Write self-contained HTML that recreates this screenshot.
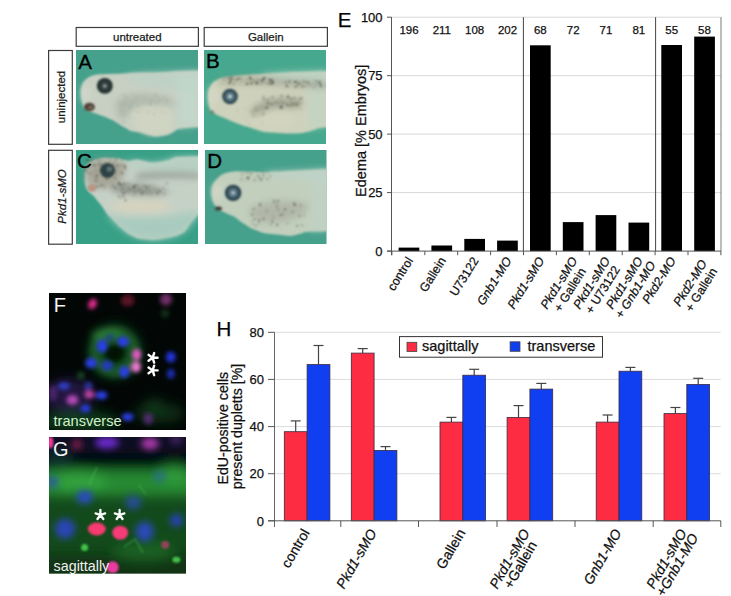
<!DOCTYPE html>
<html><head><meta charset="utf-8"><style>html,body{margin:0;padding:0;background:#fff;width:731px;height:596px;overflow:hidden}svg{display:block}text{font-family:"Liberation Sans",sans-serif} .ct text{stroke:#111;stroke-width:0.25px}</style></head>
<body>
<svg width="731" height="596" viewBox="0 0 731 596" font-family="Liberation Sans, sans-serif">
<rect width="731" height="596" fill="#fff"/>
<defs>
<filter id="b05" x="-20%" y="-20%" width="140%" height="140%"><feGaussianBlur stdDeviation="0.5"/></filter>
<filter id="b1" x="-20%" y="-20%" width="140%" height="140%"><feGaussianBlur stdDeviation="0.9"/></filter>
<filter id="b2" x="-50%" y="-50%" width="200%" height="200%"><feGaussianBlur stdDeviation="2"/></filter>
<filter id="b3" x="-50%" y="-50%" width="200%" height="200%"><feGaussianBlur stdDeviation="3.5"/></filter>
<filter id="b5" x="-50%" y="-50%" width="200%" height="200%"><feGaussianBlur stdDeviation="6"/></filter>
<clipPath id="cA"><rect x="76" y="50" width="122" height="94"/></clipPath>
<clipPath id="cB"><rect x="204" y="50" width="122" height="94"/></clipPath>
<clipPath id="cC"><rect x="76" y="150" width="122" height="94"/></clipPath>
<clipPath id="cD"><rect x="205" y="150" width="121.5" height="94"/></clipPath>
<clipPath id="cF"><rect x="49" y="293" width="137" height="137"/></clipPath>
<clipPath id="cG"><rect x="49" y="437" width="137" height="136.5"/></clipPath>
</defs>
<rect x="76.2" y="27.5" width="122.2" height="18.8" fill="#fff" stroke="#3c3c3c" stroke-width="1.2"/>
<text x="137.3" y="41.2" font-size="11.5" text-anchor="middle" fill="#1a1a1a" stroke="#1a1a1a" stroke-width="0.25">untreated</text>
<rect x="204.2" y="27.5" width="123.2" height="18.8" fill="#fff" stroke="#3c3c3c" stroke-width="1.2"/>
<text x="265.8" y="41.2" font-size="11.5" text-anchor="middle" fill="#1a1a1a" stroke="#1a1a1a" stroke-width="0.25">Gallein</text>
<rect x="48.6" y="50.5" width="23.7" height="93.8" fill="#fff" stroke="#3c3c3c" stroke-width="1.2"/>
<text transform="translate(65 97) rotate(-90)" font-size="11.5" text-anchor="middle" fill="#1a1a1a" stroke="#1a1a1a" stroke-width="0.25">uninjected</text>
<rect x="48.6" y="150.3" width="23.7" height="93.9" fill="#fff" stroke="#3c3c3c" stroke-width="1.2"/>
<text transform="translate(65.5 196.5) rotate(-90)" font-size="11.5" text-anchor="middle" font-style="italic" fill="#1a1a1a" stroke="#1a1a1a" stroke-width="0.25">Pkd1-sMO</text>
<g clip-path="url(#cA)"><rect x="75" y="49" width="124" height="96" fill="#45a08c"/>
<g transform="translate(76 50)">
<g filter="url(#b1)">
<path d="M4.6 43.4 C4.5 36 7 31 10 29.2 C14 26 18 25 21 24.6 C30 24 36 23.9 41.7 23.8 C55 23 60 22.5 70 22.5 C85 22.9 95 21.5 100.4 21.3 L124 20.5 L124 77.3 C112 77.5 104 78.5 100.4 79.7 C96 83 93 84.4 92.5 84.4 C85 86 80 86.5 76.8 86 C70 84 65 82 61 82 C57 81.5 55 81 53.4 80.4 C50 78 47 76.5 45 75.4 C40 72 37 70.5 35 69.5 C30 67 27 66 25 65.4 C20 63.5 17 62.5 15 62 C11 60 8.5 58.5 7.5 57 C5.5 52 4.7 47 4.6 43.4 Z" fill="#c8d0c3"/>
</g>
<g filter="url(#b3)">
<path d="M50 25 C70 23 95 22 124 21 L124 42 C105 40 80 37 55 32 Z" fill="#bcd2c6" opacity="0.8"/>
<path d="M102 24 L124 22 L124 76 C115 76 108 77 102 78 Z" fill="#c0d8cc" opacity="0.7"/>
<path d="M40 52 C48 44 65 42 85 46 C95 48 100 52 100 56 C85 54 70 54 58 58 C52 62 48 68 46 72 C42 66 38 58 40 52 Z" fill="#9aa698" opacity="0.5"/>
<ellipse cx="9" cy="44" rx="4" ry="9" fill="#d8ddd2" opacity="0.6"/>
</g>
<g filter="url(#b2)">
<path d="M56 64 C62 56 75 54 90 58 C98 62 100 72 96 80 C90 86 78 87 68 84 C60 80 55 72 56 64 Z" fill="#d2d5c2" opacity="0.8"/>
</g>
<g filter="url(#b1)">
<circle cx="60.1" cy="47.0" r="0.55" fill="#76705e" opacity="0.6"/><circle cx="46.1" cy="54.7" r="0.46" fill="#76705e" opacity="0.6"/><circle cx="45.2" cy="54.1" r="0.36" fill="#76705e" opacity="0.6"/><circle cx="66.3" cy="45.4" r="0.38" fill="#76705e" opacity="0.6"/><circle cx="65.8" cy="60.5" r="0.39" fill="#76705e" opacity="0.6"/><circle cx="54.5" cy="56.5" r="0.63" fill="#76705e" opacity="0.6"/><circle cx="74.3" cy="51.9" r="0.64" fill="#76705e" opacity="0.6"/><circle cx="44.6" cy="61.2" r="0.44" fill="#76705e" opacity="0.6"/><circle cx="50.1" cy="46.4" r="0.44" fill="#76705e" opacity="0.6"/><circle cx="87.7" cy="47.6" r="0.52" fill="#76705e" opacity="0.6"/><circle cx="77.8" cy="51.4" r="0.51" fill="#76705e" opacity="0.6"/><circle cx="45.5" cy="45.2" r="0.41" fill="#76705e" opacity="0.6"/><circle cx="80.1" cy="52.6" r="0.44" fill="#76705e" opacity="0.6"/><circle cx="74.8" cy="53.1" r="0.44" fill="#76705e" opacity="0.6"/><circle cx="86.5" cy="58.0" r="0.42" fill="#76705e" opacity="0.6"/><circle cx="74.2" cy="54.5" r="0.61" fill="#76705e" opacity="0.6"/><circle cx="82.8" cy="49.8" r="0.64" fill="#76705e" opacity="0.6"/><circle cx="48.6" cy="52.4" r="0.58" fill="#76705e" opacity="0.6"/><circle cx="50.5" cy="53.8" r="0.36" fill="#76705e" opacity="0.6"/><circle cx="79.4" cy="59.3" r="0.52" fill="#76705e" opacity="0.6"/><circle cx="91.0" cy="50.3" r="0.56" fill="#76705e" opacity="0.6"/><circle cx="75.3" cy="55.6" r="0.49" fill="#76705e" opacity="0.6"/><circle cx="89.0" cy="62.9" r="0.49" fill="#76705e" opacity="0.6"/><circle cx="79.2" cy="45.2" r="0.56" fill="#76705e" opacity="0.6"/><circle cx="78.2" cy="63.9" r="0.60" fill="#76705e" opacity="0.6"/><circle cx="57.9" cy="51.7" r="0.55" fill="#76705e" opacity="0.6"/><circle cx="43.3" cy="53.2" r="0.40" fill="#76705e" opacity="0.6"/><circle cx="48.6" cy="45.2" r="0.58" fill="#76705e" opacity="0.6"/><circle cx="49.2" cy="49.0" r="0.47" fill="#76705e" opacity="0.6"/><circle cx="90.8" cy="45.6" r="0.48" fill="#76705e" opacity="0.6"/><circle cx="72.8" cy="61.7" r="0.60" fill="#76705e" opacity="0.6"/><circle cx="90.4" cy="49.6" r="0.47" fill="#76705e" opacity="0.6"/><circle cx="62.1" cy="61.7" r="0.64" fill="#76705e" opacity="0.6"/><circle cx="50.5" cy="47.5" r="0.42" fill="#76705e" opacity="0.6"/><circle cx="55.1" cy="53.7" r="0.53" fill="#76705e" opacity="0.6"/><circle cx="56.7" cy="44.1" r="0.48" fill="#76705e" opacity="0.6"/><circle cx="62.7" cy="55.3" r="0.64" fill="#76705e" opacity="0.6"/><circle cx="80.7" cy="54.3" r="0.54" fill="#76705e" opacity="0.6"/><circle cx="79.9" cy="45.1" r="0.62" fill="#76705e" opacity="0.6"/><circle cx="85.7" cy="61.5" r="0.59" fill="#76705e" opacity="0.6"/>
<circle cx="51.5" cy="65.6" r="0.38" fill="#76705e" opacity="0.5"/><circle cx="54.9" cy="60.9" r="0.37" fill="#76705e" opacity="0.5"/><circle cx="48.9" cy="62.3" r="0.44" fill="#76705e" opacity="0.5"/><circle cx="46.7" cy="60.0" r="0.39" fill="#76705e" opacity="0.5"/><circle cx="47.4" cy="65.1" r="0.36" fill="#76705e" opacity="0.5"/><circle cx="58.2" cy="68.6" r="0.39" fill="#76705e" opacity="0.5"/><circle cx="49.5" cy="64.9" r="0.44" fill="#76705e" opacity="0.5"/><circle cx="47.7" cy="71.9" r="0.60" fill="#76705e" opacity="0.5"/><circle cx="52.5" cy="66.8" r="0.37" fill="#76705e" opacity="0.5"/><circle cx="47.4" cy="64.8" r="0.42" fill="#76705e" opacity="0.5"/>
</g>
<g filter="url(#b1)">
<ellipse cx="13.4" cy="57" rx="5.5" ry="4.3" fill="#4e4038"/>
<ellipse cx="14.5" cy="57.5" rx="2.3" ry="1.8" fill="#7e6a5c"/>
<circle cx="28.8" cy="35.9" r="7.9" fill="#243232"/><circle cx="28.8" cy="35.9" r="4.90" fill="#34403f"/><circle cx="28.8" cy="35.9" r="1.74" fill="#8a9c9c"/>
</g>
</g></g>
<text x="78.3" y="68.6" font-size="20.5" fill="#000" stroke="#000" stroke-width="0.3">A</text>
<g clip-path="url(#cB)"><rect x="203" y="49" width="124" height="96" fill="#46a88e"/>
<g transform="translate(204 50)">
<g filter="url(#b1)">
<path d="M3.9 45.7 C4 41 5 38.5 6.3 36.3 C8 33 10 31 12.6 30 C16 28 20 27.2 23.7 26.8 C30 26 35 25.5 39.4 25.2 C48 24.5 55 24 61 23.7 C75 23 85 22.2 92.5 22 L124 21.3 L124 77.3 C120 77.4 117 77.6 114.6 78 C108 81 100 83 92.5 83.6 C80 83.5 70 82.5 61 82 C55 80.5 50 79 47.3 78 C42 76.5 38 75.5 34.7 74.1 C30 72 26 70.5 23.7 69.4 C20 67.5 15 66 12.6 64.7 C10 63 8 61.5 6.3 60 C4.5 56 3.8 50 3.9 45.7 Z" fill="#ced2bc"/>
</g>
<g filter="url(#b3)">
<path d="M58 24 C80 22.5 100 21.8 124 21.3 L124 30 C100 29.5 80 29 62 28.5 Z" fill="#b6d2c4" opacity="0.85"/>
<path d="M104 24 L124 22 L124 76 C118 76.5 110 78 104 80 Z" fill="#bed4c6" opacity="0.6"/>
<path d="M14 31 C25 27 45 26 65 28 C90 30 110 31 124 33 L124 38 C105 37 85 36 65 34 C45 33 25 33 14 34 Z" fill="#8a8a7a" opacity="0.6"/>
<path d="M46 62 C55 50 72 46 98 50 C100 54 96 58 90 58 C75 56 62 58 52 66 Z" fill="#8e9282" opacity="0.75"/>
<ellipse cx="8" cy="46" rx="4" ry="10" fill="#dcdccc" opacity="0.7"/>
<ellipse cx="70" cy="70" rx="22" ry="8" fill="#d6d6c2" opacity="0.6"/>
</g>
<g filter="url(#b1)">
<circle cx="61.1" cy="28.1" r="0.51" fill="#3e3e36" opacity="0.75"/><circle cx="67.5" cy="30.7" r="0.57" fill="#3e3e36" opacity="0.75"/><circle cx="46.2" cy="27.2" r="0.76" fill="#3e3e36" opacity="0.75"/><circle cx="68.9" cy="33.0" r="0.85" fill="#3e3e36" opacity="0.75"/><circle cx="31.6" cy="29.6" r="0.58" fill="#3e3e36" opacity="0.75"/><circle cx="58.1" cy="30.7" r="0.89" fill="#3e3e36" opacity="0.75"/><circle cx="35.1" cy="28.6" r="0.91" fill="#3e3e36" opacity="0.75"/><circle cx="69.2" cy="33.0" r="0.90" fill="#3e3e36" opacity="0.75"/><circle cx="60.6" cy="32.2" r="0.61" fill="#3e3e36" opacity="0.75"/><circle cx="44.9" cy="29.5" r="0.51" fill="#3e3e36" opacity="0.75"/><circle cx="19.5" cy="29.0" r="0.63" fill="#3e3e36" opacity="0.75"/><circle cx="54.0" cy="33.7" r="0.72" fill="#3e3e36" opacity="0.75"/><circle cx="66.7" cy="33.9" r="0.98" fill="#3e3e36" opacity="0.75"/><circle cx="37.0" cy="28.5" r="0.61" fill="#3e3e36" opacity="0.75"/><circle cx="28.2" cy="28.4" r="0.81" fill="#3e3e36" opacity="0.75"/><circle cx="64.8" cy="32.9" r="0.74" fill="#3e3e36" opacity="0.75"/><circle cx="52.0" cy="32.6" r="0.54" fill="#3e3e36" opacity="0.75"/><circle cx="52.4" cy="33.4" r="0.89" fill="#3e3e36" opacity="0.75"/><circle cx="57.0" cy="30.3" r="0.59" fill="#3e3e36" opacity="0.75"/><circle cx="59.0" cy="29.3" r="0.90" fill="#3e3e36" opacity="0.75"/><circle cx="68.5" cy="29.8" r="0.70" fill="#3e3e36" opacity="0.75"/><circle cx="67.2" cy="32.1" r="0.59" fill="#3e3e36" opacity="0.75"/><circle cx="24.6" cy="28.1" r="0.95" fill="#3e3e36" opacity="0.75"/><circle cx="59.9" cy="28.0" r="0.91" fill="#3e3e36" opacity="0.75"/><circle cx="69.0" cy="31.6" r="0.68" fill="#3e3e36" opacity="0.75"/><circle cx="46.5" cy="27.9" r="0.51" fill="#3e3e36" opacity="0.75"/><circle cx="68.5" cy="31.5" r="0.76" fill="#3e3e36" opacity="0.75"/><circle cx="66.5" cy="30.0" r="0.94" fill="#3e3e36" opacity="0.75"/><circle cx="61.0" cy="28.5" r="0.63" fill="#3e3e36" opacity="0.75"/><circle cx="33.2" cy="28.7" r="0.79" fill="#3e3e36" opacity="0.75"/><circle cx="31.5" cy="29.9" r="0.57" fill="#3e3e36" opacity="0.75"/><circle cx="65.3" cy="29.5" r="0.73" fill="#3e3e36" opacity="0.75"/><circle cx="48.3" cy="33.3" r="0.71" fill="#3e3e36" opacity="0.75"/><circle cx="65.7" cy="30.5" r="0.77" fill="#3e3e36" opacity="0.75"/><circle cx="45.2" cy="27.1" r="0.72" fill="#3e3e36" opacity="0.75"/><circle cx="27.5" cy="27.0" r="0.90" fill="#3e3e36" opacity="0.75"/><circle cx="27.0" cy="30.3" r="0.86" fill="#3e3e36" opacity="0.75"/><circle cx="46.9" cy="29.3" r="0.76" fill="#3e3e36" opacity="0.75"/><circle cx="46.9" cy="32.5" r="0.55" fill="#3e3e36" opacity="0.75"/><circle cx="47.1" cy="28.7" r="0.64" fill="#3e3e36" opacity="0.75"/><circle cx="58.2" cy="30.6" r="0.78" fill="#3e3e36" opacity="0.75"/><circle cx="57.5" cy="33.4" r="0.72" fill="#3e3e36" opacity="0.75"/><circle cx="49.9" cy="30.5" r="0.76" fill="#3e3e36" opacity="0.75"/><circle cx="54.0" cy="30.2" r="0.77" fill="#3e3e36" opacity="0.75"/><circle cx="42.9" cy="33.6" r="0.85" fill="#3e3e36" opacity="0.75"/><circle cx="63.6" cy="33.6" r="0.63" fill="#3e3e36" opacity="0.75"/><circle cx="47.1" cy="33.6" r="0.92" fill="#3e3e36" opacity="0.75"/><circle cx="25.1" cy="27.9" r="0.72" fill="#3e3e36" opacity="0.75"/><circle cx="21.8" cy="28.7" r="0.54" fill="#3e3e36" opacity="0.75"/><circle cx="52.8" cy="32.5" r="0.95" fill="#3e3e36" opacity="0.75"/><circle cx="26.0" cy="32.0" r="0.83" fill="#3e3e36" opacity="0.75"/><circle cx="25.4" cy="33.2" r="0.98" fill="#3e3e36" opacity="0.75"/><circle cx="29.4" cy="33.7" r="0.70" fill="#3e3e36" opacity="0.75"/><circle cx="43.3" cy="33.9" r="0.92" fill="#3e3e36" opacity="0.75"/><circle cx="26.4" cy="30.0" r="0.76" fill="#3e3e36" opacity="0.75"/>
<circle cx="94.9" cy="32.2" r="0.66" fill="#3e3e36" opacity="0.7"/><circle cx="111.8" cy="31.1" r="0.78" fill="#3e3e36" opacity="0.7"/><circle cx="99.4" cy="31.1" r="0.67" fill="#3e3e36" opacity="0.7"/><circle cx="107.5" cy="34.1" r="0.53" fill="#3e3e36" opacity="0.7"/><circle cx="123.3" cy="35.7" r="0.99" fill="#3e3e36" opacity="0.7"/><circle cx="84.6" cy="32.6" r="0.52" fill="#3e3e36" opacity="0.7"/><circle cx="114.3" cy="32.6" r="0.56" fill="#3e3e36" opacity="0.7"/><circle cx="98.6" cy="36.5" r="0.91" fill="#3e3e36" opacity="0.7"/><circle cx="91.4" cy="31.9" r="0.96" fill="#3e3e36" opacity="0.7"/><circle cx="105.1" cy="35.2" r="0.54" fill="#3e3e36" opacity="0.7"/><circle cx="82.5" cy="35.1" r="0.71" fill="#3e3e36" opacity="0.7"/><circle cx="83.2" cy="36.6" r="0.82" fill="#3e3e36" opacity="0.7"/><circle cx="115.3" cy="31.5" r="0.93" fill="#3e3e36" opacity="0.7"/><circle cx="82.9" cy="36.2" r="0.73" fill="#3e3e36" opacity="0.7"/><circle cx="94.9" cy="34.3" r="0.96" fill="#3e3e36" opacity="0.7"/><circle cx="91.8" cy="31.8" r="0.76" fill="#3e3e36" opacity="0.7"/><circle cx="90.5" cy="31.7" r="0.58" fill="#3e3e36" opacity="0.7"/><circle cx="82.2" cy="32.2" r="0.66" fill="#3e3e36" opacity="0.7"/><circle cx="93.4" cy="35.6" r="0.64" fill="#3e3e36" opacity="0.7"/><circle cx="102.0" cy="32.1" r="0.67" fill="#3e3e36" opacity="0.7"/><circle cx="80.8" cy="32.5" r="0.51" fill="#3e3e36" opacity="0.7"/><circle cx="112.3" cy="34.3" r="0.59" fill="#3e3e36" opacity="0.7"/><circle cx="100.9" cy="36.6" r="0.55" fill="#3e3e36" opacity="0.7"/><circle cx="116.0" cy="33.6" r="0.75" fill="#3e3e36" opacity="0.7"/><circle cx="116.7" cy="33.4" r="0.75" fill="#3e3e36" opacity="0.7"/><circle cx="110.3" cy="36.9" r="0.67" fill="#3e3e36" opacity="0.7"/><circle cx="116.6" cy="35.2" r="0.82" fill="#3e3e36" opacity="0.7"/><circle cx="97.8" cy="33.1" r="0.53" fill="#3e3e36" opacity="0.7"/><circle cx="85.7" cy="31.4" r="0.87" fill="#3e3e36" opacity="0.7"/><circle cx="91.2" cy="32.0" r="0.54" fill="#3e3e36" opacity="0.7"/><circle cx="117.0" cy="36.2" r="0.84" fill="#3e3e36" opacity="0.7"/><circle cx="92.4" cy="32.5" r="0.65" fill="#3e3e36" opacity="0.7"/><circle cx="100.2" cy="31.9" r="0.72" fill="#3e3e36" opacity="0.7"/><circle cx="91.6" cy="36.8" r="0.99" fill="#3e3e36" opacity="0.7"/><circle cx="104.1" cy="32.5" r="0.98" fill="#3e3e36" opacity="0.7"/>
<circle cx="70.4" cy="51.0" r="0.45" fill="#3a3a32" opacity="0.8"/><circle cx="73.3" cy="52.6" r="0.70" fill="#3a3a32" opacity="0.8"/><circle cx="66.0" cy="53.1" r="0.45" fill="#3a3a32" opacity="0.8"/><circle cx="68.6" cy="47.3" r="0.65" fill="#3a3a32" opacity="0.8"/><circle cx="59.7" cy="46.3" r="0.60" fill="#3a3a32" opacity="0.8"/><circle cx="67.3" cy="54.2" r="0.71" fill="#3a3a32" opacity="0.8"/><circle cx="88.0" cy="55.2" r="0.81" fill="#3a3a32" opacity="0.8"/><circle cx="93.2" cy="51.5" r="0.61" fill="#3a3a32" opacity="0.8"/><circle cx="97.4" cy="48.1" r="0.81" fill="#3a3a32" opacity="0.8"/><circle cx="83.7" cy="46.6" r="0.87" fill="#3a3a32" opacity="0.8"/><circle cx="93.7" cy="54.8" r="0.82" fill="#3a3a32" opacity="0.8"/><circle cx="90.5" cy="48.0" r="0.71" fill="#3a3a32" opacity="0.8"/><circle cx="78.2" cy="57.7" r="0.85" fill="#3a3a32" opacity="0.8"/><circle cx="91.1" cy="54.2" r="0.90" fill="#3a3a32" opacity="0.8"/><circle cx="85.3" cy="55.7" r="0.56" fill="#3a3a32" opacity="0.8"/><circle cx="59.2" cy="47.9" r="0.63" fill="#3a3a32" opacity="0.8"/><circle cx="62.2" cy="57.7" r="0.73" fill="#3a3a32" opacity="0.8"/><circle cx="83.1" cy="54.8" r="0.79" fill="#3a3a32" opacity="0.8"/><circle cx="77.6" cy="46.0" r="0.85" fill="#3a3a32" opacity="0.8"/><circle cx="87.9" cy="53.0" r="0.72" fill="#3a3a32" opacity="0.8"/><circle cx="84.4" cy="46.9" r="0.82" fill="#3a3a32" opacity="0.8"/><circle cx="68.1" cy="47.0" r="0.58" fill="#3a3a32" opacity="0.8"/><circle cx="87.2" cy="48.9" r="0.82" fill="#3a3a32" opacity="0.8"/><circle cx="97.0" cy="52.9" r="0.64" fill="#3a3a32" opacity="0.8"/><circle cx="77.2" cy="55.6" r="0.83" fill="#3a3a32" opacity="0.8"/><circle cx="82.7" cy="55.0" r="0.49" fill="#3a3a32" opacity="0.8"/><circle cx="63.9" cy="49.6" r="0.82" fill="#3a3a32" opacity="0.8"/><circle cx="70.2" cy="53.9" r="0.46" fill="#3a3a32" opacity="0.8"/><circle cx="60.4" cy="49.8" r="0.79" fill="#3a3a32" opacity="0.8"/><circle cx="85.7" cy="55.5" r="0.60" fill="#3a3a32" opacity="0.8"/><circle cx="78.7" cy="52.5" r="0.68" fill="#3a3a32" opacity="0.8"/><circle cx="62.7" cy="58.5" r="0.55" fill="#3a3a32" opacity="0.8"/><circle cx="97.1" cy="59.1" r="0.46" fill="#3a3a32" opacity="0.8"/><circle cx="76.4" cy="57.5" r="0.93" fill="#3a3a32" opacity="0.8"/><circle cx="76.0" cy="49.8" r="0.55" fill="#3a3a32" opacity="0.8"/><circle cx="95.8" cy="48.9" r="0.74" fill="#3a3a32" opacity="0.8"/><circle cx="63.7" cy="53.3" r="0.93" fill="#3a3a32" opacity="0.8"/><circle cx="63.3" cy="57.5" r="0.70" fill="#3a3a32" opacity="0.8"/><circle cx="93.5" cy="55.8" r="0.57" fill="#3a3a32" opacity="0.8"/><circle cx="93.9" cy="52.8" r="0.46" fill="#3a3a32" opacity="0.8"/>
<circle cx="48.0" cy="61.9" r="0.61" fill="#3a3a32" opacity="0.6"/><circle cx="51.6" cy="57.7" r="0.57" fill="#3a3a32" opacity="0.6"/><circle cx="51.8" cy="66.1" r="0.45" fill="#3a3a32" opacity="0.6"/><circle cx="57.0" cy="66.1" r="0.49" fill="#3a3a32" opacity="0.6"/><circle cx="59.1" cy="64.6" r="0.77" fill="#3a3a32" opacity="0.6"/><circle cx="51.5" cy="60.5" r="0.59" fill="#3a3a32" opacity="0.6"/><circle cx="60.0" cy="63.1" r="0.58" fill="#3a3a32" opacity="0.6"/><circle cx="53.1" cy="59.3" r="0.47" fill="#3a3a32" opacity="0.6"/><circle cx="49.2" cy="66.0" r="0.55" fill="#3a3a32" opacity="0.6"/><circle cx="59.2" cy="59.0" r="0.54" fill="#3a3a32" opacity="0.6"/>
<circle cx="40.4" cy="58.8" r="0.41" fill="#6a6a5a" opacity="0.5"/><circle cx="58.2" cy="72.7" r="0.54" fill="#6a6a5a" opacity="0.5"/><circle cx="45.2" cy="73.3" r="0.58" fill="#6a6a5a" opacity="0.5"/><circle cx="42.0" cy="69.4" r="0.31" fill="#6a6a5a" opacity="0.5"/><circle cx="49.3" cy="64.0" r="0.53" fill="#6a6a5a" opacity="0.5"/><circle cx="45.8" cy="60.7" r="0.31" fill="#6a6a5a" opacity="0.5"/><circle cx="57.1" cy="57.5" r="0.44" fill="#6a6a5a" opacity="0.5"/><circle cx="33.7" cy="61.0" r="0.52" fill="#6a6a5a" opacity="0.5"/>
</g>
<g filter="url(#b1)">
<circle cx="26" cy="46.5" r="7.8" fill="#2e4650"/><circle cx="26" cy="46.5" r="4.84" fill="#587682"/><circle cx="26" cy="46.5" r="1.72" fill="#c9d6d6"/>
<ellipse cx="8" cy="62" rx="2" ry="1.5" fill="#8a6a62" opacity="0.8"/>
</g>
</g></g>
<text x="206" y="68.2" font-size="20.5" fill="#000" stroke="#000" stroke-width="0.35">B</text>
<g clip-path="url(#cC)"><rect x="75" y="149" width="124" height="96" fill="#38a087"/>
<g transform="translate(76 150)">
<g filter="url(#b1)">
<path d="M9.5 20.5 C11 15 13 12.5 15.8 11 C20 9 25 8 28.4 7.9 C35 8 40 8.3 44.2 8.7 C48 9.5 50 10.5 52 11 C56 10.5 58 10 61 9.5 C68 11 73 12.5 76.8 12.6 C82 12.5 88 11.5 92.5 10.3 C96 9 98 7.5 100.4 7.1 L124 6.3 L124 63 C120 67 117 70 114.6 72.5 C112 77 110 80 108.3 82 C103 85 98 87 92.5 87.5 C85 89 80 90 76.8 90 C70 89.5 65 89 61 88.3 C57 86 54 85 52 83.6 C48 80 45 78 42.6 75.7 C38 71 34 67 31.5 64.7 C28 60 26 56 23.7 53.6 C21 50 19 47.5 17.4 45.7 C14 43 12 41 11 39.4 C9.5 36 8.7 34 8.7 31.5 C8.7 27 9 23 9.5 20.5 Z" fill="#c6d1c6"/>
</g>
<g filter="url(#b3)">
<path d="M30 64 C50 68 70 68 90 66 C105 64 115 62 124 60 L124 63 C118 70 112 80 108 82 C98 88 85 90 76.8 90 C65 89 55 86 50 82 C42 76 36 70 30 64 Z" fill="#a6cbbf" opacity="0.9"/>
<path d="M52 11 C60 10 70 12.5 77 12.6 C88 12 96 8 100.4 7.1 L124 6.3 L124 21 C100 20 75 19 52 17 Z" fill="#b3d0c3" opacity="0.8"/>
<ellipse cx="65" cy="56" rx="30" ry="7" fill="#d8d4bd" opacity="0.85"/>
<path d="M9 20 C12 12 20 9 30 8.5 C40 9 46 11 50 15 C50 25 45 32 35 37 C25 40 15 38 10 32 Z" fill="#9a9484" opacity="0.7"/>
<path d="M36 36 C55 32 75 36 95 42 C80 47 55 45 36 41 Z" fill="#70726a" opacity="0.7"/>
<path d="M60 24 C80 21 105 22 124 23 L124 28 C105 27 80 27 60 29 Z" fill="#6a6e64" opacity="0.6"/>
</g>
<g filter="url(#b1)">
<circle cx="49.1" cy="16.5" r="0.83" fill="#4a463c" opacity="0.7"/><circle cx="22.0" cy="25.2" r="0.70" fill="#4a463c" opacity="0.7"/><circle cx="16.7" cy="13.7" r="0.60" fill="#4a463c" opacity="0.7"/><circle cx="46.2" cy="23.4" r="0.61" fill="#4a463c" opacity="0.7"/><circle cx="46.3" cy="37.9" r="0.72" fill="#4a463c" opacity="0.7"/><circle cx="15.6" cy="14.6" r="0.55" fill="#4a463c" opacity="0.7"/><circle cx="23.7" cy="11.6" r="0.62" fill="#4a463c" opacity="0.7"/><circle cx="20.3" cy="25.5" r="0.94" fill="#4a463c" opacity="0.7"/><circle cx="40.0" cy="21.0" r="0.71" fill="#4a463c" opacity="0.7"/><circle cx="31.0" cy="19.9" r="0.67" fill="#4a463c" opacity="0.7"/><circle cx="12.5" cy="17.0" r="0.98" fill="#4a463c" opacity="0.7"/><circle cx="15.0" cy="23.6" r="0.81" fill="#4a463c" opacity="0.7"/><circle cx="44.5" cy="15.3" r="0.64" fill="#4a463c" opacity="0.7"/><circle cx="19.9" cy="20.6" r="0.72" fill="#4a463c" opacity="0.7"/><circle cx="48.2" cy="33.6" r="0.94" fill="#4a463c" opacity="0.7"/><circle cx="10.9" cy="9.9" r="0.85" fill="#4a463c" opacity="0.7"/><circle cx="45.8" cy="22.7" r="0.79" fill="#4a463c" opacity="0.7"/><circle cx="10.0" cy="20.4" r="0.96" fill="#4a463c" opacity="0.7"/><circle cx="43.0" cy="33.8" r="0.99" fill="#4a463c" opacity="0.7"/><circle cx="19.9" cy="12.2" r="0.58" fill="#4a463c" opacity="0.7"/><circle cx="30.9" cy="28.8" r="0.97" fill="#4a463c" opacity="0.7"/><circle cx="38.9" cy="27.8" r="0.88" fill="#4a463c" opacity="0.7"/><circle cx="28.3" cy="25.0" r="0.52" fill="#4a463c" opacity="0.7"/><circle cx="41.3" cy="15.7" r="0.96" fill="#4a463c" opacity="0.7"/><circle cx="35.8" cy="17.8" r="0.56" fill="#4a463c" opacity="0.7"/><circle cx="20.1" cy="27.5" r="0.85" fill="#4a463c" opacity="0.7"/><circle cx="14.5" cy="11.0" r="0.76" fill="#4a463c" opacity="0.7"/><circle cx="33.3" cy="20.3" r="0.61" fill="#4a463c" opacity="0.7"/><circle cx="34.0" cy="9.3" r="0.65" fill="#4a463c" opacity="0.7"/><circle cx="28.4" cy="36.8" r="0.82" fill="#4a463c" opacity="0.7"/><circle cx="45.4" cy="22.8" r="0.62" fill="#4a463c" opacity="0.7"/><circle cx="19.9" cy="36.9" r="0.85" fill="#4a463c" opacity="0.7"/><circle cx="22.3" cy="9.6" r="0.75" fill="#4a463c" opacity="0.7"/><circle cx="37.0" cy="21.2" r="0.63" fill="#4a463c" opacity="0.7"/><circle cx="36.7" cy="35.8" r="0.61" fill="#4a463c" opacity="0.7"/><circle cx="11.4" cy="18.8" r="0.71" fill="#4a463c" opacity="0.7"/><circle cx="37.3" cy="14.7" r="0.90" fill="#4a463c" opacity="0.7"/><circle cx="39.6" cy="23.6" r="0.60" fill="#4a463c" opacity="0.7"/><circle cx="48.8" cy="18.0" r="0.91" fill="#4a463c" opacity="0.7"/><circle cx="19.2" cy="15.4" r="0.88" fill="#4a463c" opacity="0.7"/><circle cx="21.8" cy="36.6" r="0.75" fill="#4a463c" opacity="0.7"/><circle cx="17.5" cy="15.5" r="0.71" fill="#4a463c" opacity="0.7"/><circle cx="36.6" cy="36.5" r="0.57" fill="#4a463c" opacity="0.7"/><circle cx="25.7" cy="15.2" r="0.99" fill="#4a463c" opacity="0.7"/><circle cx="15.7" cy="10.5" r="0.53" fill="#4a463c" opacity="0.7"/><circle cx="25.7" cy="35.0" r="0.94" fill="#4a463c" opacity="0.7"/><circle cx="39.3" cy="37.9" r="0.97" fill="#4a463c" opacity="0.7"/><circle cx="23.2" cy="14.4" r="0.97" fill="#4a463c" opacity="0.7"/><circle cx="39.9" cy="9.9" r="0.83" fill="#4a463c" opacity="0.7"/><circle cx="25.1" cy="19.8" r="0.67" fill="#4a463c" opacity="0.7"/><circle cx="16.8" cy="9.1" r="0.64" fill="#4a463c" opacity="0.7"/><circle cx="24.1" cy="36.7" r="0.56" fill="#4a463c" opacity="0.7"/><circle cx="48.6" cy="15.0" r="0.68" fill="#4a463c" opacity="0.7"/><circle cx="42.9" cy="32.8" r="0.72" fill="#4a463c" opacity="0.7"/><circle cx="12.0" cy="22.7" r="0.69" fill="#4a463c" opacity="0.7"/><circle cx="46.8" cy="14.6" r="0.68" fill="#4a463c" opacity="0.7"/><circle cx="45.9" cy="9.9" r="0.71" fill="#4a463c" opacity="0.7"/><circle cx="42.5" cy="31.2" r="0.52" fill="#4a463c" opacity="0.7"/><circle cx="11.4" cy="10.8" r="0.96" fill="#4a463c" opacity="0.7"/><circle cx="20.3" cy="30.7" r="0.95" fill="#4a463c" opacity="0.7"/>
<circle cx="58.6" cy="36.0" r="0.88" fill="#3e3e36" opacity="0.7"/><circle cx="73.9" cy="35.9" r="0.76" fill="#3e3e36" opacity="0.7"/><circle cx="57.4" cy="36.0" r="0.40" fill="#3e3e36" opacity="0.7"/><circle cx="81.6" cy="43.1" r="0.72" fill="#3e3e36" opacity="0.7"/><circle cx="91.9" cy="33.3" r="0.52" fill="#3e3e36" opacity="0.7"/><circle cx="66.1" cy="43.5" r="0.88" fill="#3e3e36" opacity="0.7"/><circle cx="61.3" cy="35.8" r="0.61" fill="#3e3e36" opacity="0.7"/><circle cx="67.1" cy="43.2" r="0.49" fill="#3e3e36" opacity="0.7"/><circle cx="84.1" cy="41.1" r="0.81" fill="#3e3e36" opacity="0.7"/><circle cx="82.5" cy="39.7" r="0.56" fill="#3e3e36" opacity="0.7"/><circle cx="57.6" cy="37.0" r="0.79" fill="#3e3e36" opacity="0.7"/><circle cx="44.3" cy="35.2" r="0.78" fill="#3e3e36" opacity="0.7"/><circle cx="53.6" cy="33.7" r="0.42" fill="#3e3e36" opacity="0.7"/><circle cx="70.4" cy="36.6" r="0.89" fill="#3e3e36" opacity="0.7"/><circle cx="88.6" cy="43.9" r="0.53" fill="#3e3e36" opacity="0.7"/><circle cx="44.6" cy="34.1" r="0.65" fill="#3e3e36" opacity="0.7"/><circle cx="79.0" cy="37.9" r="0.52" fill="#3e3e36" opacity="0.7"/><circle cx="62.9" cy="39.8" r="0.74" fill="#3e3e36" opacity="0.7"/><circle cx="81.1" cy="42.3" r="0.73" fill="#3e3e36" opacity="0.7"/><circle cx="46.7" cy="42.2" r="0.55" fill="#3e3e36" opacity="0.7"/><circle cx="71.2" cy="37.1" r="0.77" fill="#3e3e36" opacity="0.7"/><circle cx="51.0" cy="35.7" r="0.52" fill="#3e3e36" opacity="0.7"/><circle cx="48.4" cy="42.7" r="0.69" fill="#3e3e36" opacity="0.7"/><circle cx="57.9" cy="37.4" r="0.90" fill="#3e3e36" opacity="0.7"/><circle cx="67.9" cy="35.5" r="0.80" fill="#3e3e36" opacity="0.7"/><circle cx="75.9" cy="43.9" r="0.45" fill="#3e3e36" opacity="0.7"/><circle cx="66.1" cy="42.0" r="0.82" fill="#3e3e36" opacity="0.7"/><circle cx="90.3" cy="33.4" r="0.55" fill="#3e3e36" opacity="0.7"/><circle cx="46.6" cy="35.1" r="0.89" fill="#3e3e36" opacity="0.7"/><circle cx="72.1" cy="43.2" r="0.59" fill="#3e3e36" opacity="0.7"/><circle cx="87.6" cy="37.9" r="0.53" fill="#3e3e36" opacity="0.7"/><circle cx="82.8" cy="43.4" r="0.45" fill="#3e3e36" opacity="0.7"/><circle cx="72.8" cy="39.8" r="0.51" fill="#3e3e36" opacity="0.7"/><circle cx="60.3" cy="34.6" r="0.50" fill="#3e3e36" opacity="0.7"/><circle cx="54.0" cy="39.6" r="0.73" fill="#3e3e36" opacity="0.7"/><circle cx="51.2" cy="33.1" r="0.56" fill="#3e3e36" opacity="0.7"/><circle cx="77.3" cy="35.0" r="0.56" fill="#3e3e36" opacity="0.7"/><circle cx="51.2" cy="41.7" r="0.67" fill="#3e3e36" opacity="0.7"/><circle cx="43.5" cy="34.1" r="0.60" fill="#3e3e36" opacity="0.7"/><circle cx="70.3" cy="40.0" r="0.45" fill="#3e3e36" opacity="0.7"/>
<circle cx="44.9" cy="48.3" r="0.56" fill="#3e3e36" opacity="0.7"/><circle cx="47.1" cy="43.7" r="0.78" fill="#3e3e36" opacity="0.7"/><circle cx="47.6" cy="46.8" r="0.54" fill="#3e3e36" opacity="0.7"/><circle cx="49.5" cy="50.4" r="0.80" fill="#3e3e36" opacity="0.7"/><circle cx="48.5" cy="42.4" r="0.69" fill="#3e3e36" opacity="0.7"/><circle cx="45.7" cy="40.1" r="0.76" fill="#3e3e36" opacity="0.7"/><circle cx="49.6" cy="49.8" r="0.56" fill="#3e3e36" opacity="0.7"/><circle cx="57.9" cy="45.5" r="0.47" fill="#3e3e36" opacity="0.7"/><circle cx="42.3" cy="46.6" r="0.66" fill="#3e3e36" opacity="0.7"/><circle cx="58.4" cy="41.1" r="0.65" fill="#3e3e36" opacity="0.7"/><circle cx="48.7" cy="46.1" r="0.46" fill="#3e3e36" opacity="0.7"/><circle cx="47.1" cy="46.3" r="0.77" fill="#3e3e36" opacity="0.7"/><circle cx="44.0" cy="45.9" r="0.72" fill="#3e3e36" opacity="0.7"/><circle cx="59.4" cy="42.4" r="0.45" fill="#3e3e36" opacity="0.7"/>
</g>
<g filter="url(#b1)">
<ellipse cx="15.8" cy="38" rx="4.5" ry="3.8" fill="#b89484"/>
<circle cx="31.5" cy="20.5" r="7.6" fill="#2e4244"/>
<circle cx="33.5" cy="19" r="2.6" fill="#5e7676"/>
</g>
</g></g>
<text x="77" y="168.4" font-size="20.5" fill="#000" stroke="#000" stroke-width="0.35">C</text>
<g clip-path="url(#cD)"><rect x="204" y="149" width="123.5" height="96" fill="#45a08c"/>
<g transform="translate(205 150)">
<g filter="url(#b1)">
<path d="M6.3 39.4 C7 35 9 32 11 30 C14 26 17 24 20.5 22.9 C25 21.8 28 21.4 31.5 21.3 C45 21.6 55 22 61 22 C75 21.5 85 20.8 92.5 20.5 L124 19 L124 81.2 C112 81.4 105 81.6 100.4 82 C95 84 90 85.5 84.7 86 C75 85 68 84 61 83.6 C55 82 50 79.5 47.3 78.9 C42 76 38 73 34.7 71 C32 68.5 30 67 28.4 66.2 C23 64 19 62 15.8 60.7 C12 58 10 56 8.7 53.6 C6.5 49 6 44 6.3 39.4 Z" fill="#c2cfbd"/>
</g>
<g filter="url(#b3)">
<path d="M60 22 C80 21 100 20 124 19 L124 33 C100 31 80 28 60 26 Z" fill="#bcd4c8" opacity="0.75"/>
<path d="M106 21 L124 19 L124 80 C118 80.5 112 81 106 82 Z" fill="#bed4c8" opacity="0.6"/>
<path d="M44 60 C55 50 80 48 104 54 C102 66 85 74 58 73 C48 70 44 65 44 60 Z" fill="#a8ab9c" opacity="0.65"/>
<ellipse cx="12" cy="42" rx="5" ry="10" fill="#dcdccf" opacity="0.6"/>
</g>
<g filter="url(#b1)">
<circle cx="96.9" cy="75.4" r="0.67" fill="#3a3a32" opacity="0.75"/><circle cx="47.9" cy="74.1" r="0.62" fill="#3a3a32" opacity="0.75"/><circle cx="94.7" cy="66.1" r="0.82" fill="#3a3a32" opacity="0.75"/><circle cx="53.8" cy="70.4" r="0.55" fill="#3a3a32" opacity="0.75"/><circle cx="67.2" cy="72.0" r="0.82" fill="#3a3a32" opacity="0.75"/><circle cx="55.1" cy="55.7" r="0.63" fill="#3a3a32" opacity="0.75"/><circle cx="73.5" cy="60.0" r="0.51" fill="#3a3a32" opacity="0.75"/><circle cx="58.6" cy="68.8" r="0.85" fill="#3a3a32" opacity="0.75"/><circle cx="47.3" cy="64.6" r="0.79" fill="#3a3a32" opacity="0.75"/><circle cx="47.1" cy="71.8" r="0.50" fill="#3a3a32" opacity="0.75"/><circle cx="78.0" cy="64.3" r="0.73" fill="#3a3a32" opacity="0.75"/><circle cx="61.8" cy="60.9" r="0.71" fill="#3a3a32" opacity="0.75"/><circle cx="68.4" cy="67.1" r="0.65" fill="#3a3a32" opacity="0.75"/><circle cx="69.1" cy="50.6" r="0.73" fill="#3a3a32" opacity="0.75"/><circle cx="71.9" cy="56.1" r="0.79" fill="#3a3a32" opacity="0.75"/><circle cx="87.9" cy="61.9" r="0.53" fill="#3a3a32" opacity="0.75"/><circle cx="71.0" cy="52.8" r="0.51" fill="#3a3a32" opacity="0.75"/><circle cx="68.7" cy="52.4" r="0.65" fill="#3a3a32" opacity="0.75"/><circle cx="73.1" cy="51.1" r="0.74" fill="#3a3a32" opacity="0.75"/><circle cx="49.5" cy="69.1" r="0.80" fill="#3a3a32" opacity="0.75"/><circle cx="73.1" cy="51.4" r="0.68" fill="#3a3a32" opacity="0.75"/><circle cx="65.8" cy="74.7" r="0.51" fill="#3a3a32" opacity="0.75"/><circle cx="92.1" cy="75.9" r="0.78" fill="#3a3a32" opacity="0.75"/><circle cx="89.8" cy="55.0" r="0.89" fill="#3a3a32" opacity="0.75"/><circle cx="72.1" cy="74.9" r="0.86" fill="#3a3a32" opacity="0.75"/><circle cx="54.1" cy="70.5" r="0.87" fill="#3a3a32" opacity="0.75"/><circle cx="48.6" cy="59.1" r="0.79" fill="#3a3a32" opacity="0.75"/><circle cx="53.7" cy="73.3" r="0.57" fill="#3a3a32" opacity="0.75"/><circle cx="89.9" cy="53.7" r="0.68" fill="#3a3a32" opacity="0.75"/><circle cx="95.6" cy="55.4" r="0.57" fill="#3a3a32" opacity="0.75"/><circle cx="72.8" cy="58.3" r="0.47" fill="#3a3a32" opacity="0.75"/><circle cx="55.0" cy="54.2" r="0.87" fill="#3a3a32" opacity="0.75"/><circle cx="82.4" cy="73.3" r="0.53" fill="#3a3a32" opacity="0.75"/><circle cx="88.2" cy="53.0" r="0.69" fill="#3a3a32" opacity="0.75"/><circle cx="80.0" cy="59.4" r="0.84" fill="#3a3a32" opacity="0.75"/><circle cx="75.5" cy="65.1" r="0.85" fill="#3a3a32" opacity="0.75"/><circle cx="50.8" cy="75.8" r="0.73" fill="#3a3a32" opacity="0.75"/><circle cx="66.7" cy="70.7" r="0.57" fill="#3a3a32" opacity="0.75"/><circle cx="99.5" cy="65.0" r="0.61" fill="#3a3a32" opacity="0.75"/><circle cx="87.1" cy="61.5" r="0.53" fill="#3a3a32" opacity="0.75"/>
<circle cx="58.3" cy="22.4" r="0.77" fill="#4a4a40" opacity="0.7"/><circle cx="43.6" cy="27.8" r="0.84" fill="#4a4a40" opacity="0.7"/><circle cx="53.6" cy="28.0" r="0.54" fill="#4a4a40" opacity="0.7"/><circle cx="36.1" cy="22.3" r="0.47" fill="#4a4a40" opacity="0.7"/><circle cx="54.5" cy="25.9" r="0.63" fill="#4a4a40" opacity="0.7"/><circle cx="62.9" cy="23.2" r="0.50" fill="#4a4a40" opacity="0.7"/><circle cx="55.6" cy="22.2" r="0.40" fill="#4a4a40" opacity="0.7"/><circle cx="46.6" cy="23.0" r="0.56" fill="#4a4a40" opacity="0.7"/><circle cx="42.7" cy="27.3" r="0.67" fill="#4a4a40" opacity="0.7"/><circle cx="42.1" cy="27.6" r="0.61" fill="#4a4a40" opacity="0.7"/><circle cx="40.0" cy="30.4" r="0.51" fill="#4a4a40" opacity="0.7"/><circle cx="40.5" cy="22.9" r="0.69" fill="#4a4a40" opacity="0.7"/><circle cx="62.1" cy="29.0" r="0.58" fill="#4a4a40" opacity="0.7"/><circle cx="43.9" cy="22.1" r="0.69" fill="#4a4a40" opacity="0.7"/><circle cx="52.9" cy="25.2" r="0.69" fill="#4a4a40" opacity="0.7"/><circle cx="49.3" cy="30.4" r="0.73" fill="#4a4a40" opacity="0.7"/><circle cx="43.5" cy="30.1" r="0.42" fill="#4a4a40" opacity="0.7"/><circle cx="51.9" cy="25.7" r="0.51" fill="#4a4a40" opacity="0.7"/><circle cx="37.8" cy="29.0" r="0.41" fill="#4a4a40" opacity="0.7"/><circle cx="52.5" cy="30.5" r="0.46" fill="#4a4a40" opacity="0.7"/><circle cx="42.0" cy="27.5" r="0.63" fill="#4a4a40" opacity="0.7"/><circle cx="55.2" cy="29.3" r="0.48" fill="#4a4a40" opacity="0.7"/><circle cx="45.3" cy="24.7" r="0.42" fill="#4a4a40" opacity="0.7"/><circle cx="62.7" cy="29.0" r="0.72" fill="#4a4a40" opacity="0.7"/><circle cx="36.2" cy="29.6" r="0.74" fill="#4a4a40" opacity="0.7"/><circle cx="50.0" cy="28.7" r="0.60" fill="#4a4a40" opacity="0.7"/><circle cx="42.8" cy="22.9" r="0.50" fill="#4a4a40" opacity="0.7"/><circle cx="37.2" cy="25.0" r="0.74" fill="#4a4a40" opacity="0.7"/><circle cx="56.9" cy="29.6" r="0.72" fill="#4a4a40" opacity="0.7"/><circle cx="44.0" cy="27.0" r="0.60" fill="#4a4a40" opacity="0.7"/><circle cx="59.7" cy="26.7" r="0.52" fill="#4a4a40" opacity="0.7"/><circle cx="55.3" cy="30.7" r="0.50" fill="#4a4a40" opacity="0.7"/><circle cx="62.4" cy="22.1" r="0.52" fill="#4a4a40" opacity="0.7"/><circle cx="43.1" cy="28.7" r="0.83" fill="#4a4a40" opacity="0.7"/><circle cx="58.4" cy="24.9" r="0.80" fill="#4a4a40" opacity="0.7"/><circle cx="45.9" cy="24.2" r="0.81" fill="#4a4a40" opacity="0.7"/><circle cx="54.9" cy="28.2" r="0.70" fill="#4a4a40" opacity="0.7"/><circle cx="65.4" cy="26.2" r="0.78" fill="#4a4a40" opacity="0.7"/><circle cx="56.9" cy="29.7" r="0.60" fill="#4a4a40" opacity="0.7"/><circle cx="57.7" cy="27.1" r="0.54" fill="#4a4a40" opacity="0.7"/>
</g>
<g filter="url(#b1)">
<circle cx="28.1" cy="42.9" r="8.2" fill="#2c4450"/><circle cx="28.1" cy="42.9" r="5.08" fill="#52707e"/><circle cx="28.1" cy="42.9" r="1.80" fill="#b4c4c8"/>
<ellipse cx="13.5" cy="58.5" rx="3.5" ry="2" fill="#3c3a36"/>
</g>
</g></g>
<text x="207.3" y="168.4" font-size="20.5" fill="#000" stroke="#000" stroke-width="0.35">D</text>
<g clip-path="url(#cF)"><g transform="translate(49 293)">
<rect x="-2" y="-2" width="141" height="141" fill="#020705"/>
<g filter="url(#b5)">
<ellipse cx="66" cy="58" rx="26" ry="27" fill="#154a20" opacity="0.75"/>
<ellipse cx="20" cy="102" rx="26" ry="16" fill="#2a1a50" opacity="0.8"/>
<ellipse cx="30" cy="128" rx="40" ry="10" fill="#144a1e" opacity="0.8"/>
<ellipse cx="110" cy="120" rx="25" ry="10" fill="#103a1a" opacity="0.7"/>
<ellipse cx="105" cy="112" rx="8" ry="6" fill="#1a4a22" opacity="0.7"/>
</g>
<g filter="url(#b3)">
<circle cx="65.5" cy="59" r="20" fill="none" stroke="#24702f" stroke-width="10" opacity="0.7"/>
<ellipse cx="58" cy="42" rx="16" ry="7" fill="#3a9a44" opacity="0.45"/>
<ellipse cx="65.5" cy="60" rx="11" ry="11" fill="#030a06" opacity="0.9"/>
</g>
<g filter="url(#b2)">
<ellipse cx="53.2" cy="52.9" rx="5.5" ry="6.5" fill="#2a3ee6" opacity="1"/>
<ellipse cx="74.1" cy="48.6" rx="6" ry="5" fill="#2a3ee6" opacity="1"/>
<ellipse cx="42.1" cy="70.1" rx="6" ry="5" fill="#2a3ee6" opacity="1"/>
<ellipse cx="58.1" cy="72.6" rx="6" ry="5" fill="#2536cc" opacity="0.9"/>
<ellipse cx="75.3" cy="78.7" rx="5" ry="6" fill="#2a3ee6" opacity="1"/>
<ellipse cx="60.6" cy="44.2" rx="4" ry="3" fill="#2030b0" opacity="0.7"/>
<ellipse cx="87.7" cy="61.5" rx="4.5" ry="5.5" fill="#e858c8" opacity="1"/>
<ellipse cx="87" cy="73.8" rx="5" ry="5.5" fill="#ee78d0" opacity="1"/>
<ellipse cx="43.5" cy="10.9" rx="4" ry="5.5" fill="#e02a8c" opacity="1" transform="rotate(30 43.5 10.9)"/>
<ellipse cx="78.7" cy="7.5" rx="7" ry="6" fill="#6a1a2a" opacity="0.8"/>
<ellipse cx="117" cy="6.6" rx="6" ry="6" fill="#8a3a80" opacity="0.8"/>
<ellipse cx="116" cy="20.6" rx="4" ry="4" fill="#1a4a2a" opacity="0.6"/>
<ellipse cx="121.8" cy="64" rx="5" ry="5.5" fill="#2030d8" opacity="1"/>
<ellipse cx="121.8" cy="80.7" rx="4" ry="5" fill="#2030c8" opacity="0.9"/>
<ellipse cx="15" cy="93" rx="6" ry="4" fill="#3040d0" opacity="0.9"/>
<ellipse cx="39.4" cy="93" rx="4" ry="4" fill="#3040c0" opacity="0.8"/>
<ellipse cx="52.5" cy="102.3" rx="6" ry="4" fill="#2a40e8" opacity="1"/>
<ellipse cx="36.5" cy="115.4" rx="5" ry="4" fill="#2a3ad8" opacity="1"/>
<ellipse cx="78.7" cy="123.9" rx="6" ry="4" fill="#2a3ee0" opacity="1"/>
<ellipse cx="23.4" cy="107" rx="6" ry="5" fill="#c050c0" opacity="0.9"/>
<ellipse cx="40.3" cy="101.4" rx="5" ry="4" fill="#d04ab0" opacity="0.9"/>
<ellipse cx="99.3" cy="125.7" rx="5" ry="6" fill="#6a3090" opacity="0.7"/>
<ellipse cx="31.9" cy="82.6" rx="4" ry="4" fill="#1a5a2a" opacity="0.7"/>
<ellipse cx="4" cy="100" rx="4" ry="8" fill="#5a2a80" opacity="0.7"/>
</g>
</g></g>
<text x="53.8" y="311.7" font-size="20" fill="#f4f4f4">F</text>
<path d="M152.60 357.80L157.60 357.80M152.60 357.80L154.15 362.56M152.60 357.80L148.55 360.74M152.60 357.80L148.55 354.86M152.60 357.80L154.15 353.04" stroke="#fff" stroke-width="2.4" stroke-linecap="round" fill="none"/>
<path d="M152.60 370.40L157.60 370.40M152.60 370.40L154.15 375.16M152.60 370.40L148.55 373.34M152.60 370.40L148.55 367.46M152.60 370.40L154.15 365.64" stroke="#fff" stroke-width="2.4" stroke-linecap="round" fill="none"/>
<text x="53.5" y="425.8" font-size="14.6" fill="#d4f0cc">transverse</text>
<g clip-path="url(#cG)"><g transform="translate(49 437)">
<rect x="-2" y="-2" width="141" height="141" fill="#134a1c"/>
<g filter="url(#b5)">
<rect x="-10" y="-10" width="160" height="30" fill="#0c0c22"/>
<rect x="-10" y="16" width="160" height="16" fill="#040e08"/>
<ellipse cx="10" cy="22" rx="14" ry="8" fill="#103a40" opacity="0.7"/>
<rect x="-10" y="34" width="160" height="25" fill="#2a9a38" opacity="0.8"/>
<ellipse cx="30" cy="44" rx="28" ry="11" fill="#38b044" opacity="0.6"/>
<ellipse cx="125" cy="36" rx="15" ry="9" fill="#38b044" opacity="0.6"/>
<rect x="-10" y="118" width="160" height="30" fill="#0a2a10" opacity="0.7"/>
<ellipse cx="95" cy="115" rx="30" ry="10" fill="#1e7a2c" opacity="0.5"/>
</g>
<g filter="url(#b3)">
<ellipse cx="58" cy="5.6" rx="12" ry="6" fill="#6e2ad0" opacity="1"/>
<ellipse cx="101" cy="6.6" rx="9" ry="6" fill="#b03ab0" opacity="1"/>
<ellipse cx="28" cy="7.5" rx="5" ry="5" fill="#8a2050" opacity="1"/>
<ellipse cx="127" cy="2.8" rx="6" ry="4" fill="#5a2a80" opacity="0.8"/>
<ellipse cx="110.6" cy="39.4" rx="6" ry="6" fill="#2a6aa0" opacity="0.7"/>
<ellipse cx="3.7" cy="45" rx="5" ry="6" fill="#2a48c0" opacity="0.8"/>
<ellipse cx="35.6" cy="60" rx="8" ry="6.5" fill="#2a48c8" opacity="1"/>
<ellipse cx="84.3" cy="65.5" rx="8" ry="7" fill="#2a4ab0" opacity="0.8"/>
<ellipse cx="16" cy="91.7" rx="10" ry="10" fill="#2a44b8" opacity="1"/>
<ellipse cx="95.6" cy="94.5" rx="9" ry="10" fill="#2a48b8" opacity="1"/>
<ellipse cx="127.4" cy="83.3" rx="6" ry="6" fill="#2a40c8" opacity="1"/>
</g>
<g filter="url(#b1)">
<ellipse cx="1.5" cy="5.6" rx="3" ry="6" fill="#f03a9a" opacity="1"/>
<ellipse cx="47.8" cy="92" rx="9" ry="6.5" fill="#f53a70" opacity="1"/>
<ellipse cx="71.2" cy="95.8" rx="8" ry="7" fill="#f53a78" opacity="1"/>
<ellipse cx="63.7" cy="130.2" rx="6" ry="6" fill="#ea3aa0" opacity="1"/>
<ellipse cx="35.6" cy="110.5" rx="3.5" ry="3.5" fill="#48d050" opacity="0.9"/>
<ellipse cx="127.4" cy="122.7" rx="4" ry="3" fill="#48d050" opacity="0.9"/>
<ellipse cx="116.2" cy="107.7" rx="4" ry="4" fill="#b04068" opacity="0.8"/>
<path d="M75 110 L86 102 L94 116 M40 48 L48 30 M90 48 L97 58" stroke="#50c050" stroke-width="1" fill="none" opacity="0.7"/>
</g>
</g></g>
<text x="53" y="455.5" font-size="20" fill="#f4f4f4">G</text>
<path d="M100.40 515.00L100.40 510.00M100.40 515.00L105.16 513.45M100.40 515.00L103.34 519.05M100.40 515.00L97.46 519.05M100.40 515.00L95.64 513.45" stroke="#fff" stroke-width="2.3" stroke-linecap="round" fill="none"/>
<path d="M119.60 515.00L119.60 510.00M119.60 515.00L124.36 513.45M119.60 515.00L122.54 519.05M119.60 515.00L116.66 519.05M119.60 515.00L114.84 513.45" stroke="#fff" stroke-width="2.3" stroke-linecap="round" fill="none"/>
<text x="53.6" y="570.6" font-size="14.3" fill="#f2f2f2">sagittally</text>
<g class="ct"><line x1="391.5" y1="192.6" x2="721" y2="192.6" stroke="#d8d8d8" stroke-width="1"/>
<line x1="391.5" y1="134.1" x2="721" y2="134.1" stroke="#d8d8d8" stroke-width="1"/>
<line x1="391.5" y1="75.7" x2="721" y2="75.7" stroke="#d8d8d8" stroke-width="1"/>
<line x1="391.5" y1="17.2" x2="721" y2="17.2" stroke="#d8d8d8" stroke-width="1"/>
<line x1="721" y1="17.2" x2="721" y2="251.1" stroke="#7a7a7a" stroke-width="1"/>
<rect x="398.6" y="247.6" width="20.7" height="3.5" fill="#000"/>
<text x="409.0" y="33.6" font-size="11.5" text-anchor="middle" fill="#111">196</text>
<rect x="431.4" y="245.5" width="20.7" height="5.6" fill="#000"/>
<text x="441.8" y="33.6" font-size="11.5" text-anchor="middle" fill="#111">211</text>
<rect x="464.3" y="238.9" width="20.7" height="12.2" fill="#000"/>
<text x="474.6" y="33.6" font-size="11.5" text-anchor="middle" fill="#111">108</text>
<rect x="497.1" y="240.6" width="20.7" height="10.5" fill="#000"/>
<text x="507.5" y="33.6" font-size="11.5" text-anchor="middle" fill="#111">202</text>
<rect x="530.0" y="45.3" width="20.7" height="205.8" fill="#000"/>
<text x="540.3" y="33.6" font-size="11.5" text-anchor="middle" fill="#111">68</text>
<rect x="562.8" y="222.1" width="20.7" height="29.0" fill="#000"/>
<text x="573.2" y="33.6" font-size="11.5" text-anchor="middle" fill="#111">72</text>
<rect x="595.6" y="215.1" width="20.7" height="36.0" fill="#000"/>
<text x="606.0" y="33.6" font-size="11.5" text-anchor="middle" fill="#111">71</text>
<rect x="628.5" y="222.6" width="20.7" height="28.5" fill="#000"/>
<text x="638.8" y="33.6" font-size="11.5" text-anchor="middle" fill="#111">81</text>
<rect x="661.3" y="45.0" width="20.7" height="206.1" fill="#000"/>
<text x="671.7" y="33.6" font-size="11.5" text-anchor="middle" fill="#111">55</text>
<rect x="694.2" y="36.6" width="20.7" height="214.5" fill="#000"/>
<text x="704.5" y="33.6" font-size="11.5" text-anchor="middle" fill="#111">58</text>
<line x1="523.4" y1="17.2" x2="523.4" y2="251.1" stroke="#444" stroke-width="1"/>
<line x1="655.6" y1="17.2" x2="655.6" y2="251.1" stroke="#444" stroke-width="1"/>
<line x1="391.5" y1="17.2" x2="391.5" y2="255.2" stroke="#555" stroke-width="1"/>
<line x1="387" y1="251.1" x2="721" y2="251.1" stroke="#555" stroke-width="1"/>
<line x1="387" y1="251.1" x2="391.5" y2="251.1" stroke="#555" stroke-width="1"/>
<text x="382.6" y="255.8" font-size="13" text-anchor="end" fill="#111">0</text>
<line x1="387" y1="192.6" x2="391.5" y2="192.6" stroke="#555" stroke-width="1"/>
<text x="382.6" y="197.3" font-size="13" text-anchor="end" fill="#111">25</text>
<line x1="387" y1="134.1" x2="391.5" y2="134.1" stroke="#555" stroke-width="1"/>
<text x="382.6" y="138.8" font-size="13" text-anchor="end" fill="#111">50</text>
<line x1="387" y1="75.7" x2="391.5" y2="75.7" stroke="#555" stroke-width="1"/>
<text x="382.6" y="80.4" font-size="13" text-anchor="end" fill="#111">75</text>
<line x1="387" y1="17.2" x2="391.5" y2="17.2" stroke="#555" stroke-width="1"/>
<text x="382.6" y="21.9" font-size="13" text-anchor="end" fill="#111">100</text>
<line x1="391.9" y1="251.1" x2="391.9" y2="255.2" stroke="#555" stroke-width="1"/>
<line x1="424.8" y1="251.1" x2="424.8" y2="255.2" stroke="#555" stroke-width="1"/>
<line x1="457.7" y1="251.1" x2="457.7" y2="255.2" stroke="#555" stroke-width="1"/>
<line x1="490.6" y1="251.1" x2="490.6" y2="255.2" stroke="#555" stroke-width="1"/>
<line x1="523.5" y1="251.1" x2="523.5" y2="255.2" stroke="#555" stroke-width="1"/>
<line x1="556.4" y1="251.1" x2="556.4" y2="255.2" stroke="#555" stroke-width="1"/>
<line x1="589.3" y1="251.1" x2="589.3" y2="255.2" stroke="#555" stroke-width="1"/>
<line x1="622.2" y1="251.1" x2="622.2" y2="255.2" stroke="#555" stroke-width="1"/>
<line x1="655.1" y1="251.1" x2="655.1" y2="255.2" stroke="#555" stroke-width="1"/>
<line x1="688.0" y1="251.1" x2="688.0" y2="255.2" stroke="#555" stroke-width="1"/>
<line x1="720.9" y1="251.1" x2="720.9" y2="255.2" stroke="#555" stroke-width="1"/>
<text x="337.8" y="27.3" font-size="20.5" fill="#000">E</text>
<text transform="translate(365.5 130.8) rotate(-90)" font-size="14.5" text-anchor="middle" fill="#111">Edema [% Embryos]</text>
<g transform="translate(413.5 260.5) rotate(-58)">
<text x="0" y="0" font-size="12.3" text-anchor="end" fill="#111">control</text>
</g>
<g transform="translate(446.3 260.5) rotate(-58)">
<text x="0" y="0" font-size="12.3" text-anchor="end" fill="#111">Gallein</text>
</g>
<g transform="translate(479.1 260.5) rotate(-58)">
<text x="0" y="0" font-size="12.3" text-anchor="end" fill="#111">U73122</text>
</g>
<g transform="translate(512.0 260.5) rotate(-58)">
<text x="0" y="0" font-size="12.3" text-anchor="end" font-style="italic" fill="#111">Gnb1-MO</text>
</g>
<g transform="translate(544.8 260.5) rotate(-58)">
<text x="0" y="0" font-size="12.3" text-anchor="end" font-style="italic" fill="#111">Pkd1-sMO</text>
</g>
<g transform="translate(577.7 260.5) rotate(-58)">
<text x="-29" y="0" font-size="12.3" text-anchor="middle" font-style="italic" fill="#111">Pkd1-sMO</text>
<text x="-29" y="13" font-size="12.3" text-anchor="middle" fill="#111">+ Gallein</text>
</g>
<g transform="translate(610.5 260.5) rotate(-58)">
<text x="-29" y="0" font-size="12.3" text-anchor="middle" font-style="italic" fill="#111">Pkd1-sMO</text>
<text x="-29" y="13" font-size="12.3" text-anchor="middle" fill="#111">+ U73122</text>
</g>
<g transform="translate(643.3 260.5) rotate(-58)">
<text x="-29" y="0" font-size="12.3" text-anchor="middle" font-style="italic" fill="#111">Pkd1-sMO</text>
<text x="-29" y="13" font-size="12.3" text-anchor="middle" font-style="italic" fill="#111">+ Gnb1-MO</text>
</g>
<g transform="translate(676.2 260.5) rotate(-58)">
<text x="0" y="0" font-size="12.3" text-anchor="end" font-style="italic" fill="#111">Pkd2-MO</text>
</g>
<g transform="translate(709.0 260.5) rotate(-58)">
<text x="-29" y="0" font-size="12.3" text-anchor="middle" font-style="italic" fill="#111">Pkd2-MO</text>
<text x="-29" y="13" font-size="12.3" text-anchor="middle" fill="#111">+ Gallein</text>
</g><line x1="274.5" y1="473.7" x2="720.8" y2="473.7" stroke="#dcdcdc" stroke-width="1"/>
<line x1="274.5" y1="426.6" x2="720.8" y2="426.6" stroke="#dcdcdc" stroke-width="1"/>
<line x1="274.5" y1="379.4" x2="720.8" y2="379.4" stroke="#dcdcdc" stroke-width="1"/>
<line x1="274.5" y1="332.3" x2="720.8" y2="332.3" stroke="#dcdcdc" stroke-width="1"/>
<line x1="295.7" y1="431.7" x2="295.7" y2="420.9" stroke="#444" stroke-width="1.2"/>
<line x1="290.7" y1="420.9" x2="300.7" y2="420.9" stroke="#444" stroke-width="1.2"/>
<rect x="284.3" y="431.7" width="22.8" height="89.1" fill="#fe2c42" stroke="#3a2a40" stroke-width="0.8"/>
<line x1="318.5" y1="364.6" x2="318.5" y2="345.5" stroke="#444" stroke-width="1.2"/>
<line x1="313.5" y1="345.5" x2="323.5" y2="345.5" stroke="#444" stroke-width="1.2"/>
<rect x="307.1" y="364.6" width="22.8" height="156.2" fill="#0f3ff0" stroke="#3a2a40" stroke-width="0.8"/>
<line x1="362.7" y1="353.1" x2="362.7" y2="348.6" stroke="#444" stroke-width="1.2"/>
<line x1="357.7" y1="348.6" x2="367.7" y2="348.6" stroke="#444" stroke-width="1.2"/>
<rect x="351.3" y="353.1" width="22.8" height="167.7" fill="#fe2c42" stroke="#3a2a40" stroke-width="0.8"/>
<line x1="385.5" y1="450.4" x2="385.5" y2="446.6" stroke="#444" stroke-width="1.2"/>
<line x1="380.5" y1="446.6" x2="390.5" y2="446.6" stroke="#444" stroke-width="1.2"/>
<rect x="374.1" y="450.4" width="22.8" height="70.4" fill="#0f3ff0" stroke="#3a2a40" stroke-width="0.8"/>
<line x1="451.4" y1="422.1" x2="451.4" y2="417.4" stroke="#444" stroke-width="1.2"/>
<line x1="446.4" y1="417.4" x2="456.4" y2="417.4" stroke="#444" stroke-width="1.2"/>
<rect x="440.0" y="422.1" width="22.8" height="98.7" fill="#fe2c42" stroke="#3a2a40" stroke-width="0.8"/>
<line x1="474.2" y1="375.2" x2="474.2" y2="369.3" stroke="#444" stroke-width="1.2"/>
<line x1="469.2" y1="369.3" x2="479.2" y2="369.3" stroke="#444" stroke-width="1.2"/>
<rect x="462.8" y="375.2" width="22.8" height="145.6" fill="#0f3ff0" stroke="#3a2a40" stroke-width="0.8"/>
<line x1="518.5" y1="417.4" x2="518.5" y2="405.6" stroke="#444" stroke-width="1.2"/>
<line x1="513.5" y1="405.6" x2="523.5" y2="405.6" stroke="#444" stroke-width="1.2"/>
<rect x="507.1" y="417.4" width="22.8" height="103.4" fill="#fe2c42" stroke="#3a2a40" stroke-width="0.8"/>
<line x1="541.3" y1="389.1" x2="541.3" y2="383.4" stroke="#444" stroke-width="1.2"/>
<line x1="536.3" y1="383.4" x2="546.3" y2="383.4" stroke="#444" stroke-width="1.2"/>
<rect x="529.9" y="389.1" width="22.8" height="131.7" fill="#0f3ff0" stroke="#3a2a40" stroke-width="0.8"/>
<line x1="607.6" y1="422.1" x2="607.6" y2="415.0" stroke="#444" stroke-width="1.2"/>
<line x1="602.6" y1="415.0" x2="612.6" y2="415.0" stroke="#444" stroke-width="1.2"/>
<rect x="596.2" y="422.1" width="22.8" height="98.7" fill="#fe2c42" stroke="#3a2a40" stroke-width="0.8"/>
<line x1="630.4" y1="371.2" x2="630.4" y2="367.4" stroke="#444" stroke-width="1.2"/>
<line x1="625.4" y1="367.4" x2="635.4" y2="367.4" stroke="#444" stroke-width="1.2"/>
<rect x="619.0" y="371.2" width="22.8" height="149.6" fill="#0f3ff0" stroke="#3a2a40" stroke-width="0.8"/>
<line x1="675.4" y1="413.6" x2="675.4" y2="407.5" stroke="#444" stroke-width="1.2"/>
<line x1="670.4" y1="407.5" x2="680.4" y2="407.5" stroke="#444" stroke-width="1.2"/>
<rect x="664.0" y="413.6" width="22.8" height="107.2" fill="#fe2c42" stroke="#3a2a40" stroke-width="0.8"/>
<line x1="698.2" y1="384.4" x2="698.2" y2="378.3" stroke="#444" stroke-width="1.2"/>
<line x1="693.2" y1="378.3" x2="703.2" y2="378.3" stroke="#444" stroke-width="1.2"/>
<rect x="686.8" y="384.4" width="22.8" height="136.4" fill="#0f3ff0" stroke="#3a2a40" stroke-width="0.8"/>
<line x1="274.5" y1="332.3" x2="274.5" y2="527" stroke="#666" stroke-width="1"/>
<line x1="268" y1="520.8" x2="720.8" y2="520.8" stroke="#555" stroke-width="1"/>
<line x1="268" y1="520.8" x2="274.5" y2="520.8" stroke="#555" stroke-width="1"/>
<text x="264" y="525.5" font-size="13" text-anchor="end" fill="#111">0</text>
<line x1="268" y1="473.7" x2="274.5" y2="473.7" stroke="#555" stroke-width="1"/>
<text x="264" y="478.4" font-size="13" text-anchor="end" fill="#111">20</text>
<line x1="268" y1="426.6" x2="274.5" y2="426.6" stroke="#555" stroke-width="1"/>
<text x="264" y="431.3" font-size="13" text-anchor="end" fill="#111">40</text>
<line x1="268" y1="379.4" x2="274.5" y2="379.4" stroke="#555" stroke-width="1"/>
<text x="264" y="384.1" font-size="13" text-anchor="end" fill="#111">60</text>
<line x1="268" y1="332.3" x2="274.5" y2="332.3" stroke="#555" stroke-width="1"/>
<text x="264" y="337.0" font-size="13" text-anchor="end" fill="#111">80</text>
<line x1="340.8" y1="520.8" x2="340.8" y2="527" stroke="#555" stroke-width="1"/>
<line x1="418.5" y1="520.8" x2="418.5" y2="527" stroke="#555" stroke-width="1"/>
<line x1="497.0" y1="520.8" x2="497.0" y2="527" stroke="#555" stroke-width="1"/>
<line x1="575.0" y1="520.8" x2="575.0" y2="527" stroke="#555" stroke-width="1"/>
<line x1="653.2" y1="520.8" x2="653.2" y2="527" stroke="#555" stroke-width="1"/>
<line x1="720.8" y1="520.8" x2="720.8" y2="527" stroke="#555" stroke-width="1"/>
<text x="216.5" y="335.8" font-size="20.5" fill="#000">H</text>
<g transform="translate(0 427) rotate(-90)"><text x="-1.2" y="228" font-size="14.2" text-anchor="middle" fill="#111">EdU-positive cells</text><text x="0.5" y="242.2" font-size="14.2" text-anchor="middle" fill="#111">present dupletts [%]</text></g>
<rect x="399.5" y="336.6" width="203" height="20.6" fill="#fff" stroke="#333" stroke-width="1"/>
<rect x="407" y="342.3" width="9.8" height="9.2" fill="#fe2c42" stroke="#444" stroke-width="0.8"/>
<text x="422" y="350.8" font-size="14.5" fill="#111">sagittally</text>
<rect x="510.1" y="341.8" width="9.9" height="9.5" fill="#0f3ff0" stroke="#444" stroke-width="0.8"/>
<text x="527.5" y="350.8" font-size="14.5" fill="#111">transverse</text>
<g transform="translate(310.1 532.5) rotate(-60)">
<text x="0" y="0" font-size="14" text-anchor="end" fill="#111">control</text>
</g>
<g transform="translate(377.1 532.5) rotate(-60)">
<text x="0" y="0" font-size="14" text-anchor="end" font-style="italic" fill="#111">Pkd1-sMO</text>
</g>
<g transform="translate(465.8 532.5) rotate(-60)">
<text x="0" y="0" font-size="14" text-anchor="end" fill="#111">Gallein</text>
</g>
<g transform="translate(530.2 532.5) rotate(-60)">
<text x="-33" y="0.0" font-size="14" text-anchor="middle" font-style="italic" fill="#111">Pkd1-sMO</text>
<text x="-33" y="12.3" font-size="14" text-anchor="middle" fill="#111">+Gallein</text>
</g>
<g transform="translate(622.0 532.5) rotate(-60)">
<text x="0" y="0" font-size="14" text-anchor="end" font-style="italic" fill="#111">Gnb1-MO</text>
</g>
<g transform="translate(687.1 532.5) rotate(-60)">
<text x="-33" y="0.0" font-size="14" text-anchor="middle" font-style="italic" fill="#111">Pkd1-sMO</text>
<text x="-33" y="12.3" font-size="14" text-anchor="middle" font-style="italic" fill="#111">+Gnb1-MO</text>
</g></g>
</svg>
</body></html>
